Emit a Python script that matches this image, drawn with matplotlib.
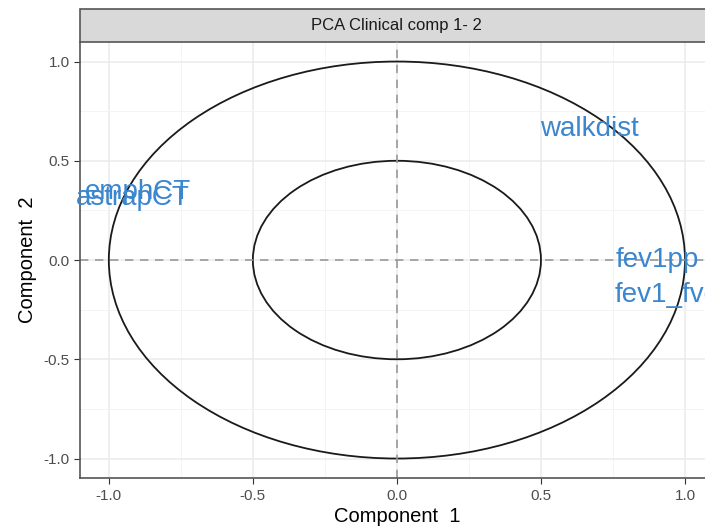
import matplotlib
matplotlib.use("Agg")
import matplotlib.pyplot as plt
from matplotlib.patches import Circle, Rectangle

plt.rcParams['font.family'] = ['Liberation Sans', 'DejaVu Sans']

# variable loadings (component 1, component 2)
var_names = ['walkdist', 'emphCT', 'astrapCT', 'fev1pp', 'fev1_fvc']
comp1 = [0.667, -0.90, -0.918, 0.903, 0.937]
comp2 = [0.66, 0.345, 0.31, 0.0, -0.175]
radii = [1.0, 0.5]
ticks = [-1.0, -0.5, 0.0, 0.5, 1.0]
minor_ticks = [-0.75, -0.25, 0.25, 0.75]
title = 'PCA Clinical comp 1- 2'

fig = plt.figure(figsize=(7.05, 5.29), dpi=100)
ax = fig.add_axes([0.1135, 0.0957, 0.899, 0.8255])
ax.set_xlim(-1.1, 1.1)
ax.set_ylim(-1.1, 1.1)

# grid
ax.set_xticks(ticks)
ax.set_yticks(ticks)
ax.set_xticks(minor_ticks, minor=True)
ax.set_yticks(minor_ticks, minor=True)
ax.grid(which='major', color='#ebebeb', lw=1.1)
ax.grid(which='minor', color='#f3f3f3', lw=0.6)
ax.set_axisbelow(True)
ax.tick_params(which='minor', length=0)
ax.tick_params(which='major', length=4, color='#333333', labelcolor='#4d4d4d', labelsize=11)
ax.set_xticklabels(['%.1f' % t for t in ticks])
ax.set_yticklabels(['%.1f' % t for t in ticks])
for s in ['top', 'right']:
    ax.spines[s].set_visible(False)
for s in ['left', 'bottom']:
    ax.spines[s].set_color('#555555')
    ax.spines[s].set_linewidth(1.2)

ax.axhline(0, color='#999999', ls=(0, (5, 4)), lw=1.2)
ax.axvline(0, color='#999999', ls=(0, (5, 4)), lw=1.2)

for r in radii:
    ax.add_patch(Circle((0, 0), r, fill=False, ec='#1a1a1a', lw=1.3))

for name, x, y in zip(var_names, comp1, comp2):
    ax.text(x, y, name, color='#3A86CF', fontsize=20, ha='center', va='center',
            clip_on=False)

ax.set_xlabel('Component  1', fontsize=14.5, labelpad=3)
ax.set_ylabel('Component  2', fontsize=14.5, labelpad=5)

# facet strip
strip = Rectangle((0.0, 1.0), 1.0, 0.075, transform=ax.transAxes, fc='#d9d9d9',
                  ec='#555555', lw=1.2, clip_on=False)
ax.add_patch(strip)
ax.text(0.5, 1.0375, title, transform=ax.transAxes, ha='center', va='center',
        fontsize=12, color='#1a1a1a')

fig.savefig('out.png', dpi=100)
